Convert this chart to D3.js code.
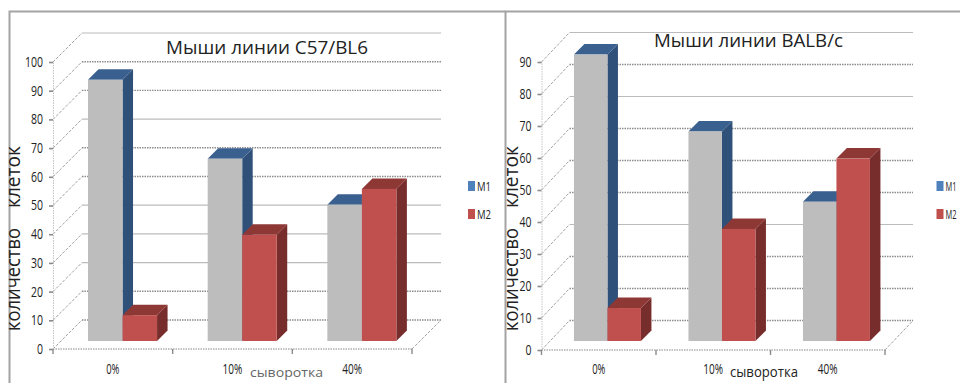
<!DOCTYPE html>
<html lang="ru">
<head>
<meta charset="utf-8">
<script src="https://d3js.org/d3.v7.min.js"></script>
<style>
  html, body { margin: 0; padding: 0; background: #fff; }
  svg { display: block; }
  text { font-family: "Open Sans", "Liberation Sans", sans-serif; fill: #222; }
</style>
</head>
<body>
<svg id="chart" width="960" height="384"></svg>
<script>
// Serum concentration groups and the two cell populations
const categories = ["0%", "10%", "40%"];
const seriesNames = ["M1", "M2"];

// Cell counts for the C57/BL6 line
const c57M1 = [91, 63.5, 47.5];
const c57M2 = [9, 37, 53];
const c57Ticks = [0, 10, 20, 30, 40, 50, 60, 70, 80, 90, 100];

// Cell counts for the BALB/c line
const balbM1 = [89.5, 65.5, 43.5];
const balbM2 = [10.3, 35, 57];
const balbTicks = [0, 10, 20, 30, 40, 50, 60, 70, 80, 90];

const titleC57 = "Мыши линии C57/BL6";
const titleBalb = "Мыши линии BALB/c";
const yTitleA = "количество";
const yTitleB = "клеток";
const xTitle = "сыворотка";

const colors = {
  M1: { front: "#bdbdbd", side: "#2f5078", top: "#3a6090", key: "#4f81bd" },
  M2: { front: "#c0504d", side: "#772d2b", top: "#8e3836", key: "#c0504d" }
};

const svg = d3.select("#chart");

// Outer frames of the two pasted charts
const frame = svg.append("g").attr("fill", "none").attr("stroke", "#a3a3a3").attr("stroke-width", 2);
frame.append("path").attr("d", "M9.5,383V11.5H505.5");
frame.append("path").attr("d", "M505.5,383V11.5H960");

// Squeezes a label horizontally, the condensed face is not available
const squeeze = (sel, perChar) => sel
  .attr("textLength", function () { return this.textContent.length * perChar; })
  .attr("lengthAdjust", "spacingAndGlyphs");

function panel(o) {
  const g = svg.append("g");
  const y = d3.scaleLinear().domain(o.domain).range(o.yRange);
  const x = d3.scaleBand().domain(categories).range(o.xRange).paddingInner(o.gap).paddingOuter(o.gap / 2);
  const inner = d3.scaleBand().domain(seriesNames).range([0, x.bandwidth()]);
  const [x0, x1] = o.xRange;
  const dx = o.wallDx, dy = o.wallDy;

  // Back wall grid lines and the diagonals on the side wall
  o.ticks.forEach(t => {
    const dotted = o.dotted.includes(t);
    g.append("line")
      .attr("x1", x0 + dx).attr("x2", x1 + dx)
      .attr("y1", y(t) + dy).attr("y2", y(t) + dy)
      .attr("stroke", dotted ? "#8c8c8c" : "#bcbcbc")
      .attr("stroke-width", dotted ? 1.4 : 1.2)
      .attr("stroke-dasharray", dotted ? "1.5 1" : null);
    g.append("line")
      .attr("x1", x0).attr("x2", x0 + dx)
      .attr("y1", y(t)).attr("y2", y(t) + dy)
      .attr("stroke", "#8a8a8a")
      .attr("stroke-width", 0.8)
      .attr("stroke-dasharray", "3 1.5");
  });

  // Floor edges
  g.append("line").attr("x1", x1).attr("x2", x1 + dx)
    .attr("y1", y(0)).attr("y2", y(0) + dy)
    .attr("stroke", "#8a8a8a").attr("stroke-width", 0.8).attr("stroke-dasharray", "3 1.5");
  g.append("line").attr("x1", x0).attr("x2", x1)
    .attr("y1", y(0)).attr("y2", y(0))
    .attr("stroke", "#b0b0b0").attr("stroke-width", 1.6).attr("stroke-dasharray", "1.5 1");

  // Value axis
  const yAxis = g.append("g").attr("transform", `translate(${x0},0)`)
    .call(d3.axisLeft(y).tickValues(o.ticks).tickSize(4).tickPadding(6));
  yAxis.select(".domain").attr("stroke", "#c4c4c4").attr("stroke-dasharray", "1.5 1");
  yAxis.selectAll(".tick line").attr("stroke", "#8a8a8a").attr("stroke-width", 1.6);
  yAxis.selectAll("text").attr("font-size", 14).attr("font-family", null).attr("fill", "#222")
    .call(squeeze, 6);

  // Category ticks and labels
  const step = x.step();
  d3.range(categories.length + 1).forEach(i => {
    const px = x0 + i * step;
    g.append("line").attr("x1", px).attr("x2", px)
      .attr("y1", y(0)).attr("y2", y(0) + 5)
      .attr("stroke", "#8a8a8a").attr("stroke-width", 1.4);
  });
  g.selectAll(".cat").data(categories).join("text")
    .attr("class", "cat")
    .attr("x", d => x(d) + x.bandwidth() / 2)
    .attr("y", 374)
    .attr("text-anchor", "middle")
    .attr("font-size", 14)
    .text(d => d)
    .call(squeeze, 6.6);

  // 3-D columns: M1 first so that M2 sits in front of its side face
  const base = y(0) - o.barLift;
  const sx = o.barShift;
  seriesNames.forEach((name, si) => {
    const vals = o.values[si];
    const c = colors[name];
    const w = inner.bandwidth();
    categories.forEach((cat, i) => {
      const left = x(cat) + inner(name) + sx;
      const top = y(vals[i]) - o.barLift;
      const d = o.barDepth;
      g.append("path").attr("fill", c.side)
        .attr("d", `M${left + w},${top}L${left + w + d},${top - d}V${base - d}L${left + w},${base}Z`);
      g.append("path").attr("fill", c.top)
        .attr("d", `M${left},${top}L${left + d},${top - d}H${left + w + d}L${left + w},${top}Z`);
      g.append("rect").attr("fill", c.front)
        .attr("x", left).attr("y", top)
        .attr("width", w).attr("height", base - top);
    });
  });

  // Titles
  g.append("text")
    .attr("x", o.titleX).attr("y", o.titleY)
    .attr("font-size", 18).attr("textLength", o.titleW).attr("lengthAdjust", "spacingAndGlyphs")
    .text(o.title);
  g.append("text")
    .attr("x", o.xNameX).attr("y", 376.5)
    .attr("font-size", o.xNameSize).attr("textLength", o.xNameW).attr("lengthAdjust", "spacingAndGlyphs")
    .style("fill", o.xNameFill)
    .text(xTitle);

  // Rotated axis title, two words with a wide gap
  const rot = (label, yStart, len) => g.append("text")
    .attr("transform", `translate(${o.yNameX},${yStart}) rotate(-90)`)
    .attr("font-size", 19.5).attr("textLength", len).attr("lengthAdjust", "spacingAndGlyphs")
    .text(label);
  rot(yTitleA, 331, 103);
  rot(yTitleB, 208, 62);

  // Legend
  seriesNames.forEach((name, i) => {
    g.append("rect").attr("x", o.legendX).attr("y", 181 + i * 28)
      .attr("width", 7).attr("height", 10).attr("fill", colors[name].key);
    g.append("text").attr("x", o.legendX + 9).attr("y", 191 + i * 27.5)
      .attr("font-size", 12.5).attr("textLength", o.legendW).attr("lengthAdjust", "spacingAndGlyphs")
      .text(name);
  });
}

panel({
  values: [c57M1, c57M2], ticks: c57Ticks, domain: [0, 100],
  dotted: [0, 10, 50, 60, 80, 90],
  xRange: [53, 412], yRange: [349, 62], gap: 0.423,
  wallDx: 29, wallDy: -29, barShift: 9.7, barLift: 8, barDepth: 10.5,
  title: titleC57, titleX: 166, titleY: 54, titleW: 202,
  xNameX: 250, xNameW: 73, xNameSize: 13.5, xNameFill: "#666",
  yNameX: 20, legendX: 468, legendW: 14
});

panel({
  values: [balbM1, balbM2], ticks: balbTicks, domain: [0, 90],
  dotted: [0, 10, 20, 40, 50, 60, 80],
  xRange: [541.5, 885], yRange: [350, 62], gap: 0.415,
  wallDx: 28, wallDy: -29.5, barShift: 8.7, barLift: 9, barDepth: 10.5,
  title: titleBalb, titleX: 654, titleY: 47, titleW: 189,
  xNameX: 730, xNameW: 68, xNameSize: 15, xNameFill: "#222",
  yNameX: 518, legendX: 936.5, legendW: 11
});
</script>
</body>
</html>
